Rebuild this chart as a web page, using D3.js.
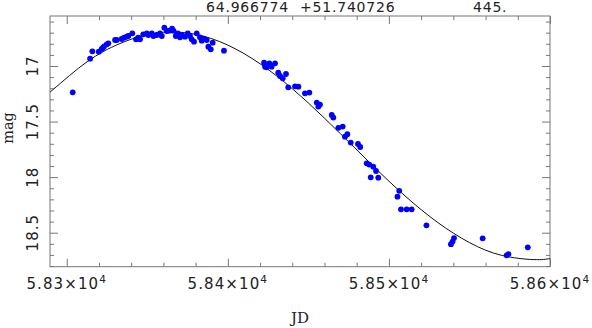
<!DOCTYPE html>
<html>
  <head>
    <meta charset="UTF-8" />
    <title>light curve</title>
    <style>
      body { margin: 0; background: #fff; }
      svg { display: block; }
      text { fill: #222; }
      .num { font-family: "DejaVu Sans", sans-serif; }
      .title { font-family: "DejaVu Serif", serif; }
    </style>
  </head>
  <body>
    <svg width="592" height="328"></svg>

    <script src="https://d3js.org/d3.v7.min.js"></script>
    <script>
      // header line over the frame
      const header = ["64.966774", "+51.740726", "445."];

      // observations
      const jd = [
        58303.7, 58314.5, 58315.9, 58319.9, 58321.7, 58322.5, 58323.2, 58324.8, 58325.8, 58330.0,
        58331.0, 58334.1, 58335.6, 58337.2, 58338.2, 58340.7, 58343.0, 58344.4, 58345.5, 58347.5,
        58349.7, 58350.6, 58352.8, 58353.8, 58355.9, 58357.9, 58359.0, 58360.6, 58362.1, 58363.7,
        58365.4, 58366.2, 58367.7, 58368.9, 58370.3, 58371.4, 58373.4, 58375.1, 58376.5, 58377.6,
        58379.0, 58380.7, 58382.7, 58383.8, 58385.2, 58386.9, 58387.9, 58389.4, 58390.6, 58397.6,
        58422.5, 58423.1, 58424.1, 58425.8, 58427.2, 58429.3, 58431.3, 58432.4, 58434.1, 58436.1,
        58437.5, 58441.7, 58443.8, 58447.9, 58450.6, 58455.2, 58456.2, 58457.2, 58464.5, 58465.5,
        58468.6, 58471.3, 58472.7, 58474.2, 58476.3, 58480.8, 58482.2, 58486.2, 58487.8, 58488.7,
        58490.3, 58492.0, 58493.4, 58505.3, 58506.4, 58507.5, 58511.0, 58514.1, 58523.3, 58538.5,
        58539.5, 58540.4, 58558.2, 58573.1, 58574.2, 58586.2
      ];
      const mag = [
        17.237, 16.934, 16.868, 16.871, 16.847, 16.834, 16.823, 16.805, 16.796, 16.766,
        16.766, 16.757, 16.745, 16.736, 16.730, 16.706, 16.760, 16.745, 16.760, 16.715,
        16.706, 16.721, 16.706, 16.730, 16.721, 16.706, 16.730, 16.655, 16.685, 16.682,
        16.664, 16.682, 16.730, 16.706, 16.742, 16.721, 16.736, 16.706, 16.730, 16.760,
        16.781, 16.706, 16.742, 16.772, 16.754, 16.766, 16.826, 16.850, 16.790, 16.862,
        16.970, 17.006, 17.012, 16.976, 17.006, 16.976, 17.060, 17.090, 17.111, 17.072,
        17.192, 17.183, 17.186, 17.246, 17.239, 17.329, 17.365, 17.347, 17.441, 17.464,
        17.556, 17.545, 17.636, 17.614, 17.689, 17.702, 17.729, 17.876, 17.887, 18.002,
        17.906, 17.945, 18.005, 18.176, 18.123, 18.290, 18.290, 18.290, 18.434, 18.603,
        18.580, 18.548, 18.551, 18.704, 18.692, 18.632
      ];

      // fitted curve
      const fitJd = [58285, 58290, 58310, 58330, 58350, 58370, 58390, 58410, 58430, 58450,
                     58470, 58490, 58510, 58530, 58550, 58570, 58590, 58600];
      const fitMag = [17.27, 17.23, 16.99, 16.817, 16.718, 16.696, 16.754, 16.888, 17.086, 17.333,
                      17.611, 17.897, 18.169, 18.405, 18.589, 18.704, 18.742, 18.733];

      // axis ticks and labels
      const xMajor = [58300, 58400, 58500, 58600];
      const xLabels = ["5.83", "5.84", "5.85", "5.86"];
      const yMajor = [17, 17.5, 18, 18.5];
      const yLabels = ["17", "17.5", "18", "18.5"];

      const svg = d3.select("svg");
      const pLeft = 50, pRight = 550, pTop = 16, pBottom = 266.7;

      const x = d3.scaleLinear().domain([58289.6, 58600]).range([pLeft, pRight]);
      const y = d3.scaleLinear().domain([16.55, 18.806]).range([pTop, pBottom]);

      const xMinor = d3.range(58300, 58601, 20).filter((v) => v % 100 !== 0);
      const yMinor = d3.range(166, 189).map((v) => v / 10).filter((v) => Math.round(v * 10) % 5 !== 0);

      const frameColor = "#777";

      function tidy(g) {
        g.select(".domain").remove();
        g.selectAll(".tick line").attr("stroke", frameColor);
        g.selectAll(".tick text").remove();
      }

      // ticks on all four sides, pointing inwards
      svg.append("g").attr("transform", `translate(0,${pBottom})`)
        .call(d3.axisBottom(x).tickValues(xMajor).tickSize(-8)).call(tidy);
      svg.append("g").attr("transform", `translate(0,${pBottom})`)
        .call(d3.axisBottom(x).tickValues(xMinor).tickSize(-4)).call(tidy);
      svg.append("g").attr("transform", `translate(0,${pTop})`)
        .call(d3.axisTop(x).tickValues(xMajor).tickSize(-8)).call(tidy);
      svg.append("g").attr("transform", `translate(0,${pTop})`)
        .call(d3.axisTop(x).tickValues(xMinor).tickSize(-4)).call(tidy);
      svg.append("g").attr("transform", `translate(${pLeft},0)`)
        .call(d3.axisLeft(y).tickValues(yMajor).tickSize(-8)).call(tidy);
      svg.append("g").attr("transform", `translate(${pLeft},0)`)
        .call(d3.axisLeft(y).tickValues(yMinor).tickSize(-4)).call(tidy);
      svg.append("g").attr("transform", `translate(${pRight},0)`)
        .call(d3.axisRight(y).tickValues(yMajor).tickSize(-8)).call(tidy);
      svg.append("g").attr("transform", `translate(${pRight},0)`)
        .call(d3.axisRight(y).tickValues(yMinor).tickSize(-4)).call(tidy);

      svg.append("rect")
        .attr("x", pLeft).attr("y", pTop)
        .attr("width", pRight - pLeft).attr("height", pBottom - pTop)
        .attr("fill", "none").attr("stroke", frameColor).attr("stroke-width", 1);

      // tick labels
      const xl = svg.append("g").selectAll("text").data(xMajor).enter()
        .append("text").attr("class", "num")
        .attr("x", (d) => x(d)).attr("y", 289)
        .attr("text-anchor", "middle")
        .style("font-size", "15px").style("letter-spacing", "1.1px");
      xl.append("tspan").text((d, i) => xLabels[i] + "\u00d710");
      xl.append("tspan").attr("dy", -6.5).style("font-size", "10.5px").text("4");

      svg.append("g").selectAll("text").data(yMajor).enter()
        .append("text").attr("class", "num")
        .attr("transform", (d) => `translate(37.5,${y(d)}) rotate(-90)`)
        .attr("text-anchor", "middle")
        .style("font-size", "15px").style("letter-spacing", "1px")
        .text((d, i) => yLabels[i]);

      // axis titles
      svg.append("text").attr("class", "title")
        .attr("x", (pLeft + pRight) / 2).attr("y", 323)
        .attr("text-anchor", "middle").style("font-size", "15px")
        .text("JD");
      svg.append("text").attr("class", "title")
        .attr("transform", "translate(12.5,128) rotate(-90)")
        .attr("text-anchor", "middle").style("font-size", "14.5px")
        .text("mag");

      // header
      const headX = [206, 300, 473];
      svg.append("g").selectAll("text").data(header).enter()
        .append("text").attr("class", "num")
        .attr("x", (d, i) => headX[i]).attr("y", 12)
        .style("font-size", "14px").style("letter-spacing", "0.8px")
        .text((d) => d);

      // clip for the plot area
      svg.append("clipPath").attr("id", "clip")
        .append("rect").attr("x", pLeft).attr("y", pTop)
        .attr("width", pRight - pLeft).attr("height", pBottom - pTop);

      const line = d3.line()
        .x((d, i) => x(fitJd[i]))
        .y((d, i) => y(fitMag[i]))
        .curve(d3.curveNatural);

      svg.append("path")
        .datum(fitJd)
        .attr("clip-path", "url(#clip)")
        .attr("fill", "none")
        .attr("stroke", "#111")
        .attr("stroke-width", 1)
        .attr("d", line);

      svg.append("g").selectAll("circle").data(jd).enter()
        .append("circle")
        .attr("cx", (d) => x(d))
        .attr("cy", (d, i) => y(mag[i]))
        .attr("r", 2.9)
        .attr("fill", "#0000ff");
    </script>
  </body>
</html>
